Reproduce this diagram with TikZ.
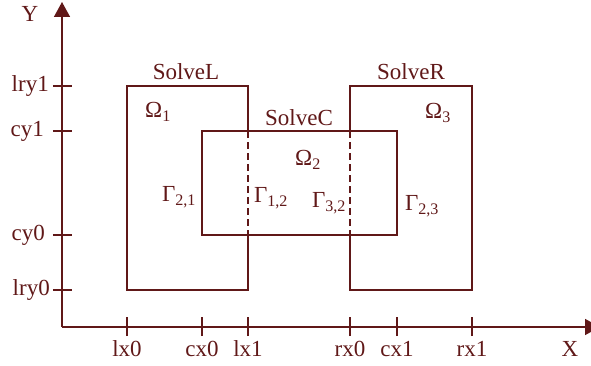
\documentclass[tikz,border=0pt]{standalone}
\usepackage{fontspec}
\setmainfont{Liberation Serif}
\usetikzlibrary{arrows.meta,positioning}
\definecolor{ddInk}{RGB}{96,24,24}
\newcommand{\ddfont}{\fontsize{23}{27}\selectfont}
\newcommand{\xmark}[3]{%
  \draw[ddline] (#1,-9) -- (#1,10);
  \node[ddtext] (#3) at (#1,-22) {#2};
}
\newcommand{\ymark}[4]{%
  \draw[ddline] (-9,#1) -- (10,#1);
  \node[ddtext,anchor=east] (#3) at (#4,#1) {#2};
}

\begin{document}
\begin{tikzpicture}[x=1pt,y=1pt,
  ddline/.style={draw=ddInk,line width=1.5pt},
  ddtext/.style={text=ddInk,font=\ddfont,inner sep=0pt},
  ddcut/.style={ddline,dash pattern=on 7pt off 4pt}]
  \useasboundingbox (-62,-38) rectangle (529,327);
  % axes
  \coordinate (origin) at (0,0);
  \coordinate (ytip) at (0,325);
  \coordinate (xtip) at (538,0);
  \draw[ddline,-{Triangle[length=15pt,width=16pt]}] (origin) -- (ytip);
  \draw[ddline,-{Triangle[length=15pt,width=16pt]}] (origin) -- (xtip);
  \node[ddtext] (ylab) at (-32,313) {Y};
  \node[ddtext] (xlab) at (508,-22) {X};
  \xmark{65}{lx0}{lxa}
  \xmark{140}{cx0}{cxa}
  \xmark{186}{lx1}{lxb}
  \xmark{288}{rx0}{rxa}
  \xmark{335}{cx1}{cxb}
  \xmark{410}{rx1}{rxb}
  \ymark{37}{lry0}{lrya}{-12}
  \ymark{92}{cy0}{cya}{-17}
  \ymark{196}{cy1}{cyb}{-18}
  \ymark{241}{lry1}{lryb}{-13}
  % left domain
  \draw[ddline] (186,196) -- (186,241) -- (65,241) -- (65,37) -- (186,37) -- (186,92);
  \draw[ddcut] (186,196) -- (186,92);
  % right domain
  \draw[ddline] (288,196) -- (288,241) -- (410,241) -- (410,37) -- (288,37) -- (288,92);
  \draw[ddcut] (288,196) -- (288,92);
  % centre domain
  \draw[ddline] (140,92) rectangle (335,196);
  % labels
  \node[ddtext] (solvel) at (124,255) {SolveL};
  \node[ddtext] (solvec) at (237,209) {SolveC};
  \node[ddtext] (solver) at (349,255) {SolveR};
  \node[ddtext] (om1) at (96,215) {Ω\textsubscript{1}};
  \node[ddtext] (om2) at (246,167) {Ω\textsubscript{2}};
  \node[ddtext] (om3) at (376,214) {Ω\textsubscript{3}};
  \node[ddtext] (ga21) at (117,130) {Γ\textsubscript{2,1}};
  \node[ddtext] (ga12) at (209,129) {Γ\textsubscript{1,2}};
  \node[ddtext] (ga32) at (267,124) {Γ\textsubscript{3,2}};
  \node[ddtext] (ga23) at (360,121) {Γ\textsubscript{2,3}};
\end{tikzpicture}
\end{document}
